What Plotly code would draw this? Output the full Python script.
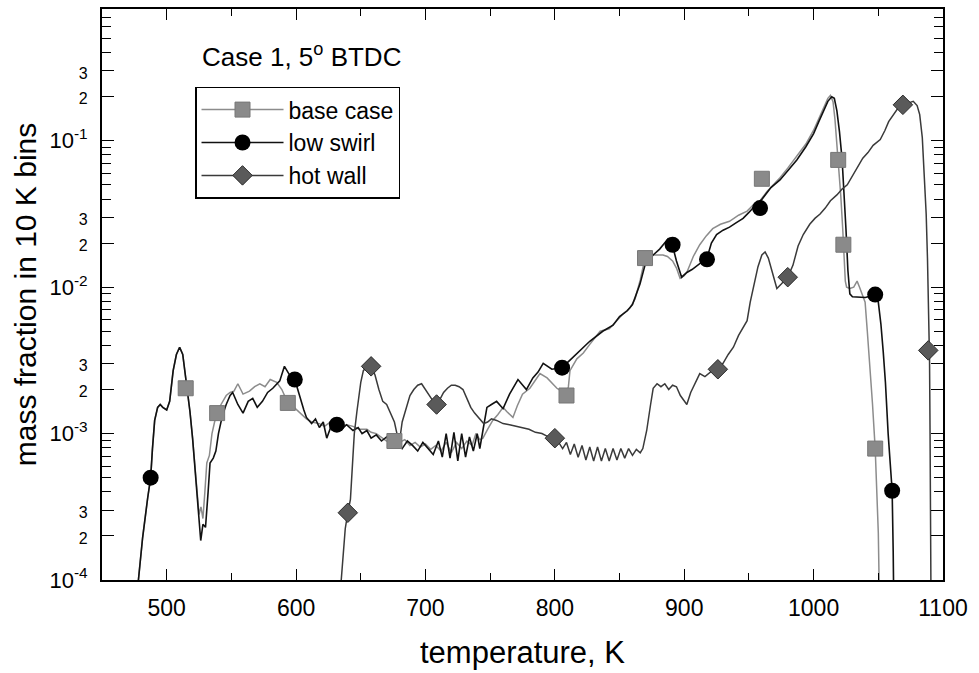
import plotly.graph_objects as go

# ---------------- data ----------------
base_T = [477, 479.5, 481.4, 485.3, 487.6, 489, 490.7, 493, 495, 497, 500, 502.3, 505, 507.5, 510,
          512.4, 514.5, 516, 518, 520, 522, 524, 525, 526.5, 528, 529.5, 531, 533, 535, 537, 539,
          542, 546, 549, 552, 555, 559, 564, 568, 572, 576, 580, 585, 589, 593.6, 597, 600.5, 604,
          608, 612, 618, 622, 628, 634, 639, 644, 649, 654.7, 658, 662, 666, 670, 674, 676, 680,
          684, 688, 692, 696, 700, 704, 708, 712, 716, 720, 724, 728, 732, 736, 739, 742, 744.4,
          748, 752, 756, 760, 763, 767.6, 771, 775, 780.7, 784.5, 788.5, 794, 798, 801.6, 805,
          809, 810.5, 811.7, 817, 822, 827, 835, 842, 848, 853, 858, 862, 866, 869.7, 876, 883.6,
          887, 891, 894, 896.8, 900, 902, 907, 912, 917, 922, 928, 935, 942, 948.6, 954, 958.6,
          964, 969, 974, 980, 987, 994, 1000, 1004, 1008, 1011, 1013, 1015, 1016.5, 1018, 1019.5,
          1021, 1022.5, 1023.5, 1024.5, 1025.5, 1028, 1031, 1033.6, 1035.5, 1037.5, 1039.8,
          1041.5, 1043.7, 1045.5, 1047.6, 1049, 1050, 1050.6, 1051]
base_Y = [7.9e-5, 1.38e-4, 1.95e-4, 3.63e-4, 5.0e-4, 7.9e-4, 1.23e-3, 1.51e-3, 1.58e-3, 1.51e-3,
          1.45e-3, 1.66e-3, 2.69e-3, 3.47e-3, 3.89e-3, 3.47e-3, 2.51e-3, 2.04e-3, 1.41e-3, 9.3e-4,
          5.6e-4, 3.3e-4, 2.8e-4, 3.16e-4, 2.63e-4, 3.98e-4, 6.3e-4, 7.1e-4, 1.0e-3, 1.2e-3,
          1.38e-3, 1.58e-3, 1.82e-3, 1.91e-3, 1.95e-3, 2.19e-3, 1.86e-3, 1.95e-3, 2.09e-3,
          2.19e-3, 2.09e-3, 2.34e-3, 2.24e-3, 2.0e-3, 1.62e-3, 1.55e-3, 1.45e-3, 1.35e-3, 1.26e-3,
          1.20e-3, 1.17e-3, 1.12e-3, 1.23e-3, 1.10e-3, 1.15e-3, 1.12e-3, 1.07e-3, 1.07e-3,
          1.02e-3, 1.0e-3, 9.5e-4, 8.9e-4, 9.3e-4, 8.9e-4, 8.7e-4, 9.1e-4, 8.3e-4, 8.7e-4, 8.1e-4,
          8.5e-4, 7.8e-4, 8.3e-4, 7.6e-4, 8.7e-4, 7.4e-4, 8.7e-4, 7.9e-4, 8.9e-4, 8.3e-4, 1.0e-3,
          9.1e-4, 9.3e-4, 1.07e-3, 1.23e-3, 1.35e-3, 1.51e-3, 1.41e-3, 1.29e-3, 1.55e-3, 1.86e-3,
          2.04e-3, 2.29e-3, 2.57e-3, 2.4e-3, 2.19e-3, 2.04e-3, 1.95e-3, 1.82e-3, 2.1e-3, 2.69e-3,
          3.24e-3, 3.55e-3, 4.07e-3, 5.0e-3, 5.2e-3, 5.9e-3, 6.6e-3, 7.2e-3, 8.3e-3, 1.12e-2,
          1.58e-2, 1.66e-2, 1.66e-2, 1.62e-2, 1.51e-2, 1.35e-2, 1.15e-2, 1.2e-2, 1.26e-2, 1.62e-2,
          1.95e-2, 2.24e-2, 2.51e-2, 2.69e-2, 2.82e-2, 3.1e-2, 3.31e-2, 3.7e-2, 3.89e-2, 4.5e-2,
          5.0e-2, 5.6e-2, 6.5e-2, 7.8e-2, 9.5e-2, 0.118, 0.141, 0.170, 0.195, 0.204, 0.185, 0.140,
          0.095, 0.068, 0.042, 0.025, 0.016, 1.1e-2, 1.0e-2, 9.8e-3, 1.0e-2, 1.1e-2, 1.0e-2,
          8.9e-3, 7.9e-3, 5.0e-3, 2.82e-3, 1.6e-3, 7.9e-4, 4.0e-4, 2.1e-4, 1.0e-4, 6.0e-5]

swirl_T = [477, 479.5, 481.4, 485.3, 487.6, 489, 490.7, 493, 495, 497, 500, 502.3, 505, 507.5, 510,
           512.4, 514.5, 516, 518, 520, 522, 524, 526.3, 528, 530, 532, 533.5, 536, 538, 540, 543,
           546, 549, 551, 555, 559, 563, 566.5, 570, 574, 578, 582, 585, 587.4, 591, 595, 599, 603,
           606, 608, 612, 615, 618, 621, 623.7, 627, 631.5, 635, 639, 644, 648, 651, 654.7, 658,
           662, 666, 670, 674, 678, 682, 686, 690, 694, 698, 702, 706, 710, 713, 716, 719, 722,
           725, 728, 731, 734, 737, 740, 742, 744.4, 747.5, 751, 755, 760, 765, 771.5, 778, 783,
           787, 791, 797.7, 805.6, 811.7, 819, 827, 837, 845, 850, 856, 860, 865.8, 870, 876, 881,
           887.5, 891, 894, 898, 902, 906, 912, 917.6, 921, 925, 930, 935, 940, 945.5, 950, 955,
           960, 967, 974, 980, 987, 994, 1000, 1004, 1008, 1011, 1014, 1016, 1018, 1020, 1022,
           1023.5, 1025, 1026.5, 1028, 1030, 1035, 1040, 1044, 1047.6, 1050, 1052, 1053.8,
           1055.5, 1057.6, 1059, 1060.7, 1061.5, 1062]
swirl_Y = [7.9e-5, 1.38e-4, 1.95e-4, 3.63e-4, 5.0e-4, 7.9e-4, 1.23e-3, 1.51e-3, 1.58e-3, 1.51e-3,
           1.45e-3, 1.66e-3, 2.69e-3, 3.47e-3, 3.89e-3, 3.47e-3, 2.51e-3, 2.04e-3, 1.41e-3,
           9.3e-4, 5.6e-4, 3.3e-4, 1.86e-4, 2.4e-4, 2.29e-4, 3.98e-4, 6.3e-4, 6.8e-4, 7.6e-4,
           1.0e-3, 1.32e-3, 1.58e-3, 1.82e-3, 1.91e-3, 1.58e-3, 1.38e-3, 1.66e-3, 1.74e-3,
           1.51e-3, 1.66e-3, 1.91e-3, 2.04e-3, 2.19e-3, 2.29e-3, 2.88e-3, 2.51e-3, 2.34e-3,
           1.74e-3, 1.45e-3, 1.29e-3, 1.17e-3, 1.26e-3, 1.10e-3, 1.20e-3, 9.3e-4, 1.12e-3,
           1.15e-3, 1.07e-3, 1.15e-3, 1.05e-3, 1.10e-3, 1.0e-3, 1.05e-3, 9.3e-4, 9.8e-4, 8.9e-4,
           9.5e-4, 8.3e-4, 9.1e-4, 7.9e-4, 8.9e-4, 8.3e-4, 7.6e-4, 8.7e-4, 7.9e-4, 7.2e-4,
           8.9e-4, 6.9e-4, 1.0e-3, 6.8e-4, 1.02e-3, 6.5e-4, 1.0e-3, 6.9e-4, 9.5e-4, 7.6e-4,
           1.0e-3, 7.9e-4, 1.05e-3, 1.51e-3, 1.58e-3, 1.66e-3, 1.48e-3, 1.86e-3, 2.34e-3, 2.0e-3,
           2.4e-3, 2.63e-3, 3.02e-3, 2.75e-3, 2.82e-3, 3.16e-3, 3.63e-3, 4.27e-3, 5.0e-3, 5.5e-3,
           6.3e-3, 6.9e-3, 7.6e-3, 1.05e-2, 1.45e-2, 1.66e-2, 1.82e-2, 2.14e-2, 1.91e-2, 1.51e-2,
           1.17e-2, 1.26e-2, 1.32e-2, 1.45e-2, 1.58e-2, 2.0e-2, 2.29e-2, 2.45e-2, 2.57e-2,
           2.75e-2, 2.95e-2, 3.24e-2, 3.63e-2, 3.98e-2, 4.79e-2, 5.4e-2, 6.2e-2, 7.4e-2, 9.1e-2,
           0.112, 0.135, 0.162, 0.186, 0.200, 0.195, 0.160, 0.115, 0.075, 0.045, 0.025, 1.3e-2,
           9.0e-3, 8.6e-3, 8.5e-3, 8.5e-3, 8.7e-3, 8.9e-3, 7.9e-3, 5.6e-3, 3.63e-3, 2.24e-3,
           1.0e-3, 6.3e-4, 4.07e-4, 1.58e-4, 6.3e-5]

hot_T = [634, 636, 638, 640, 642, 644, 645, 647, 650, 652, 655, 658, 661, 664, 667, 670, 673, 676,
         678.5, 680, 682, 685, 688, 691, 694, 697, 700, 703, 706, 708.6, 711, 714, 717, 720, 723,
         726, 729, 732, 735, 738, 742, 745, 748, 751, 755, 760, 765, 770, 775, 780, 785, 790, 795,
         800, 803, 806, 809, 812, 815, 818, 821, 824, 827, 830, 833, 836, 839, 842, 845, 848, 851,
         854, 857, 860, 863, 866, 868, 871, 874, 876, 879, 882, 885, 888, 891, 894, 897, 900, 902,
         905, 908, 912, 916, 920, 923, 926, 930, 934, 938, 942, 945, 948.6, 951, 954, 957, 960,
         962.5, 965, 968, 971.6, 975, 980, 984, 988, 992, 997, 1001, 1005, 1009, 1013, 1018, 1022,
         1026, 1030, 1034, 1038, 1042, 1046, 1051.5, 1055, 1058, 1061.5, 1065, 1069, 1073, 1077,
         1080, 1082, 1084, 1085.5, 1087, 1088, 1089, 1089.6, 1090, 1090.4, 1090.7]
hot_Y = [7.9e-5, 1.41e-4, 2.24e-4, 2.88e-4, 3.55e-4, 7.1e-4, 1.0e-3, 1.41e-3, 2.24e-3, 2.69e-3,
         2.88e-3, 2.88e-3, 2.51e-3, 2.0e-3, 1.66e-3, 1.58e-3, 1.38e-3, 1.20e-3, 9.5e-4, 8.9e-4,
         1.20e-3, 1.51e-3, 1.82e-3, 2.0e-3, 2.14e-3, 2.19e-3, 2.0e-3, 1.82e-3, 1.66e-3, 1.58e-3,
         1.70e-3, 1.91e-3, 2.04e-3, 2.14e-3, 2.14e-3, 2.09e-3, 2.0e-3, 1.74e-3, 1.51e-3, 1.38e-3,
         1.26e-3, 1.17e-3, 1.20e-3, 1.26e-3, 1.23e-3, 1.17e-3, 1.15e-3, 1.12e-3, 1.10e-3,
         1.07e-3, 1.02e-3, 1.0e-3, 9.5e-4, 9.3e-4, 8.7e-4, 7.9e-4, 8.7e-4, 7.2e-4, 8.5e-4,
         6.9e-4, 8.3e-4, 6.6e-4, 8.1e-4, 6.5e-4, 8.1e-4, 6.5e-4, 7.9e-4, 6.5e-4, 7.9e-4, 6.6e-4,
         7.9e-4, 6.8e-4, 7.9e-4, 7.1e-4, 7.8e-4, 7.4e-4, 7.9e-4, 1.05e-3, 1.58e-3, 2.04e-3,
         2.19e-3, 2.09e-3, 2.19e-3, 2.0e-3, 2.14e-3, 2.09e-3, 1.82e-3, 1.66e-3, 1.58e-3, 1.91e-3,
         2.19e-3, 2.57e-3, 2.45e-3, 2.63e-3, 2.75e-3, 2.75e-3, 3.02e-3, 3.47e-3, 3.89e-3,
         4.68e-3, 5.25e-3, 5.9e-3, 7.9e-3, 1.07e-2, 1.38e-2, 1.66e-2, 1.74e-2, 1.58e-2, 1.26e-2,
         9.8e-3, 1.05e-2, 1.17e-2, 1.41e-2, 1.91e-2, 2.29e-2, 2.69e-2, 2.95e-2, 3.16e-2, 3.47e-2,
         3.89e-2, 4.27e-2, 4.68e-2, 5.0e-2, 5.75e-2, 6.6e-2, 7.6e-2, 8.3e-2, 9.3e-2, 0.102,
         0.117, 0.135, 0.151, 0.166, 0.176, 0.182, 0.186, 0.174, 0.151, 0.105, 6.3e-2, 3.16e-2,
         1.58e-2, 6.3e-3, 3.16e-3, 1.0e-3, 2.5e-4, 7.9e-5]

# marker positions
base_mk_T = [514.7, 539, 593.6, 676, 809, 869.7, 960, 1019, 1023, 1047.6]
base_mk_Y = [2.04e-3, 1.38e-3, 1.62e-3, 8.9e-4, 1.82e-3, 1.58e-2, 5.5e-2, 7.4e-2, 1.95e-2, 7.9e-4]
swirl_mk_T = [487.6, 599, 631.5, 805.6, 891, 917.6, 958.6, 1047.6, 1060.7]
swirl_mk_Y = [5.0e-4, 2.34e-3, 1.15e-3, 2.82e-3, 1.95e-2, 1.55e-2, 3.47e-2, 8.9e-3, 4.07e-4]
hot_mk_T = [640, 658, 708.6, 800, 926, 980, 1069, 1088.6]
hot_mk_Y = [2.88e-4, 2.88e-3, 1.58e-3, 9.3e-4, 2.75e-3, 1.17e-2, 0.176, 3.7e-3]

series_names = ["base case", "low swirl", "hot wall"]

x_ticks = [500, 600, 700, 800, 900, 1000, 1100]
x_minor = [550, 650, 750, 850, 950, 1050]
y_major = [1e-4, 2e-4, 3e-4, 1e-3, 2e-3, 3e-3, 1e-2, 2e-2, 3e-2, 1e-1, 2e-1, 3e-1]
y_major_labels = ["10<sup>-4</sup>", "2", "3", "10<sup>-3</sup>", "2", "3",
                  "10<sup>-2</sup>", "2", "3", "10<sup>-1</sup>", "2", "3"]
y_minor = [4e-4, 5e-4, 6e-4, 7e-4, 8e-4, 9e-4,
           4e-3, 5e-3, 6e-3, 7e-3, 8e-3, 9e-3,
           4e-2, 5e-2, 6e-2, 7e-2, 8e-2, 9e-2,
           4e-1, 5e-1, 6e-1, 7e-1]

# ---------------- styles ----------------
FONT = "Liberation Sans, Arial, Helvetica, sans-serif"
styles = {
    "base case": dict(line=dict(color="#8c8c8c", width=1.5),
                      marker=dict(symbol="square", size=15, color="#8a8a8a",
                                  line=dict(color="#777777", width=1))),
    "low swirl": dict(line=dict(color="#111111", width=1.6),
                      marker=dict(symbol="circle", size=16, color="#000000",
                                  line=dict(color="#000000", width=0))),
    "hot wall": dict(line=dict(color="#3a3a3a", width=1.5),
                     marker=dict(symbol="diamond", size=15, color="#5a5a5a",
                                 line=dict(color="#2a2a2a", width=1))),
}

lines_data = {"base case": (base_T, base_Y), "low swirl": (swirl_T, swirl_Y),
              "hot wall": (hot_T, hot_Y)}
marks_data = {"base case": (base_mk_T, base_mk_Y), "low swirl": (swirl_mk_T, swirl_mk_Y),
              "hot wall": (hot_mk_T, hot_mk_Y)}


def y_label(lbl):
    # decade labels are larger, the "2" and "3" labels are small
    if lbl.startswith("10"):
        return lbl
    return '<span style="font-size:16px">' + lbl + '</span>'


fig = go.Figure()
for name in series_names:
    xs, ys = lines_data[name]
    fig.add_trace(go.Scatter(x=xs, y=ys, mode="lines", line=styles[name]["line"],
                             showlegend=False, hoverinfo="skip", cliponaxis=True))
for name in series_names:
    xs, ys = marks_data[name]
    fig.add_trace(go.Scatter(x=xs, y=ys, mode="markers", marker=styles[name]["marker"],
                             showlegend=False, cliponaxis=True))
for name in series_names:
    fig.add_trace(go.Scatter(x=[None], y=[None], mode="lines+markers", name=name,
                             line=styles[name]["line"], marker=styles[name]["marker"]))

axis_common = dict(showline=True, linecolor="black", linewidth=2, mirror="allticks",
                   ticks="inside", tickcolor="black", tickwidth=1.3, showgrid=False,
                   zeroline=False)

fig.update_xaxes(range=[450, 1100], tickmode="array", tickvals=x_ticks, ticklen=11,
                 tickfont=dict(family=FONT, size=23, color="black"),
                 minor=dict(tickmode="array", tickvals=x_minor, ticks="inside", ticklen=7,
                            tickcolor="black", tickwidth=1.2, showgrid=False),
                 title=dict(text="temperature, K", font=dict(family=FONT, size=31, color="black"),
                            standoff=22),
                 ticklabelstandoff=6, **axis_common)
fig.update_yaxes(type="log", range=[-4, -0.1], tickmode="array", tickvals=y_major,
                 ticktext=[y_label(t) for t in y_major_labels], ticklen=12,
                 tickfont=dict(family=FONT, size=22, color="black"),
                 minor=dict(tickmode="array", tickvals=y_minor, ticks="inside", ticklen=9,
                            tickcolor="black", tickwidth=1.2, showgrid=False),
                 title=dict(text="mass fraction in 10 K bins",
                            font=dict(family=FONT, size=30, color="black"), standoff=4),
                 ticklabelstandoff=8, **axis_common)

fig.add_annotation(text="Case 1, 5<sup>o</sup> BTDC", xref="paper", yref="paper",
                   x=0.116, y=0.918, xanchor="left", yanchor="middle", showarrow=False,
                   font=dict(family=FONT, size=26, color="black"))

fig.update_layout(
    width=979, height=673, autosize=False,
    margin=dict(l=102, r=36, t=7, b=93),
    plot_bgcolor="white", paper_bgcolor="white",
    font=dict(family=FONT, color="black"),
    legend=dict(x=0.1106, y=0.864, xanchor="left", yanchor="top",
                bgcolor="white", bordercolor="black", borderwidth=1.5,
                font=dict(family=FONT, size=23, color="black"),
                itemwidth=82, tracegroupgap=0),
    showlegend=True,
)

fig.write_html("out.html")
